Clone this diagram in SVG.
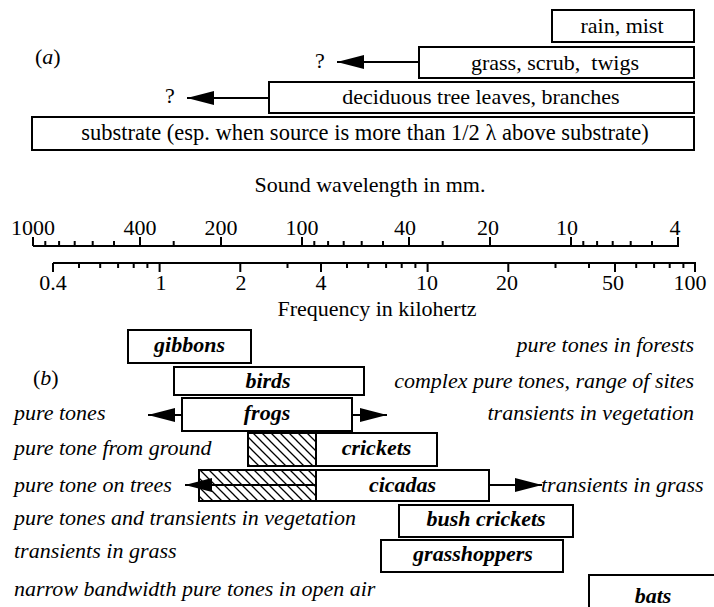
<svg xmlns="http://www.w3.org/2000/svg" width="714" height="607" viewBox="0 0 714 607">
<defs>
<style>
text{font-family:"Liberation Serif","Times New Roman",serif;font-size:22px;fill:#000}
.box{fill:#fff;stroke:#000;stroke-width:2}
.hb{fill:url(#hatch);stroke:#000;stroke-width:2}
.c{text-anchor:middle}
.r{text-anchor:end}
.it{font-style:italic}
.nm{font-style:italic;font-weight:bold;text-anchor:middle}
.ax{stroke:#000;stroke-width:2;fill:none}
.tk{stroke:#000;stroke-width:2}
.ln{stroke:#000;stroke-width:2;fill:none}
</style>
<pattern id="hatch" width="9" height="9" patternUnits="userSpaceOnUse">
<rect width="9" height="9" fill="#fff"/>
<path d="M-1,-1 L10,10 M-1,8 L1,10 M8,-1 L10,1" stroke="#000" stroke-width="1.3"/>
</pattern>
<marker id="ah" markerUnits="userSpaceOnUse" markerWidth="27" markerHeight="14" refX="27" refY="7" orient="auto">
<path d="M0,0 L27,7 L0,14 z" fill="#000"/>
</marker>
</defs>
<rect width="714" height="607" fill="#fff"/>

<!-- (a) panel -->
<text x="35" y="64">(<tspan class="it">a</tspan>)</text>
<g id="rain"><rect class="box" x="552" y="10" width="142" height="32"/><text class="c" x="622" y="33">rain, mist</text></g>
<g id="grass"><rect class="box" x="419" y="47" width="275" height="31"/><text class="c" x="555" y="70">grass, scrub,&#160; twigs</text></g>
<g id="deciduous"><rect class="box" x="269" y="82" width="425" height="31"/><text class="c" x="481" y="104">deciduous tree leaves, branches</text></g>
<g id="substrate"><rect class="box" x="32" y="117" width="662" height="33"/><text class="c" x="365" y="140" style="font-size:22.5px">substrate (esp. when source is more than 1/2 λ above substrate)</text></g>
<g id="q1"><text class="c" x="320" y="68">?</text></g>
<g id="q2"><text class="c" x="170" y="103">?</text></g>

<!-- scales -->
<g id="scales">
<text class="c" x="370" y="192">Sound wavelength in mm.</text>
<path class="ax" d="M33,246 H679"/>
<path class="tk" d="M33,246 V237 M140,246 V237 M221,246 V237 M302,246 V237 M409,246 V237 M490,246 V237 M571,246 V237 M678,246 V237
M45.3,246 V241 M59.1,246 V241 M74.7,246 V241 M92.7,246 V241 M114,246 V241 M173.7,246 V241
M314.3,246 V241 M328.1,246 V241 M343.7,246 V241 M361.7,246 V241 M383,246 V241 M442.7,246 V241
M583.3,246 V241 M597.1,246 V241 M612.7,246 V241 M630.7,246 V241 M652,246 V241"/>
<text class="c" x="33" y="235">1000</text>
<text class="c" x="140" y="235">400</text>
<text class="c" x="221" y="235">200</text>
<text class="c" x="302" y="235">100</text>
<text class="c" x="405" y="235">40</text>
<text class="c" x="488" y="235">20</text>
<text class="c" x="567" y="235">10</text>
<text class="c" x="675" y="235">4</text>

<path class="ax" d="M53,263 H696"/>
<path class="tk" d="M53,263 V272 M159.6,263 V272 M240.3,263 V272 M321,263 V272 M427.6,263 V272 M508.3,263 V272 M615,263 V272 M695,263 V272
M79,263 V268 M100.2,263 V268 M118.1,263 V268 M133.7,263 V268 M147.4,263 V268
M287.5,263 V268 M347,263 V268 M368.2,263 V268 M386.1,263 V268 M401.7,263 V268 M415.4,263 V268
M555.5,263 V268 M589,263 V268 M636.2,263 V268 M654.1,263 V268 M669.7,263 V268 M683.4,263 V268"/>
<text class="c" x="53" y="290">0.4</text>
<text class="c" x="161" y="290">1</text>
<text class="c" x="241" y="290">2</text>
<text class="c" x="321" y="290">4</text>
<text class="c" x="427" y="290">10</text>
<text class="c" x="507" y="290">20</text>
<text class="c" x="613" y="290">50</text>
<text class="c" x="690" y="290">100</text>
<text class="c" x="377" y="316">Frequency in kilohertz</text>
</g>

<!-- (b) panel -->
<text x="33" y="385">(<tspan class="it">b</tspan>)</text>
<g id="gibbons"><rect class="box" x="128" y="330" width="123" height="33"/><text class="nm" x="189.5" y="352">gibbons</text></g>
<g id="birds"><rect class="box" x="174" y="367" width="190" height="28"/><text class="nm" x="268" y="388">birds</text></g>
<g id="frogs"><rect class="box" x="182" y="398" width="170" height="33"/><text class="nm" x="267" y="420">frogs</text></g>
<g id="crickets"><rect class="hb" x="248" y="433" width="68" height="33"/><rect class="box" x="316" y="433" width="121" height="33"/><text class="nm" x="376.5" y="455">crickets</text></g>
<g id="cicadas"><rect class="hb" x="199" y="470" width="117" height="31"/><rect class="box" x="316" y="470" width="173" height="31"/><text class="nm" x="402.5" y="492">cicadas</text></g>
<g id="bushcrickets"><rect class="box" x="399" y="505" width="174" height="32"/><text class="nm" x="486" y="526">bush crickets</text></g>
<g id="grasshoppers"><rect class="box" x="381" y="540" width="182" height="32"/><text class="nm" x="473" y="561">grasshoppers</text></g>
<g id="bats"><rect class="box" x="589" y="575" width="140" height="40"/><text class="nm" x="653" y="603">bats</text></g>

<g id="left-notes">
<text class="it" x="14" y="420">pure tones</text>
<text class="it" x="14" y="455">pure tone from ground</text>
<text class="it" x="14" y="492">pure tone on trees</text>
<text class="it" x="14" y="525">pure tones and transients in vegetation</text>
<text class="it" x="14" y="558">transients in grass</text>
<text class="it" x="14" y="596">narrow bandwidth pure tones in open air</text>
</g>
<g id="right-notes">
<text class="it r" x="694" y="352">pure tones in forests</text>
<text class="it r" x="694" y="388">complex pure tones, range of sites</text>
<text class="it r" x="694" y="420">transients in vegetation</text>
<text class="it" x="541" y="492">transients in grass</text>
</g>

<g id="connectors">
<path class="ln" d="M419,62 H337" marker-end="url(#ah)"/>
<path class="ln" d="M269,98 H187" marker-end="url(#ah)"/>
<path class="ln" d="M182,415 H148" marker-end="url(#ah)"/>
<path class="ln" d="M352,415 H387" marker-end="url(#ah)"/>
<path class="ln" d="M316,485 H185" marker-end="url(#ah)"/>
<path class="ln" d="M489,485 H542" marker-end="url(#ah)"/>
</g>
</svg>
